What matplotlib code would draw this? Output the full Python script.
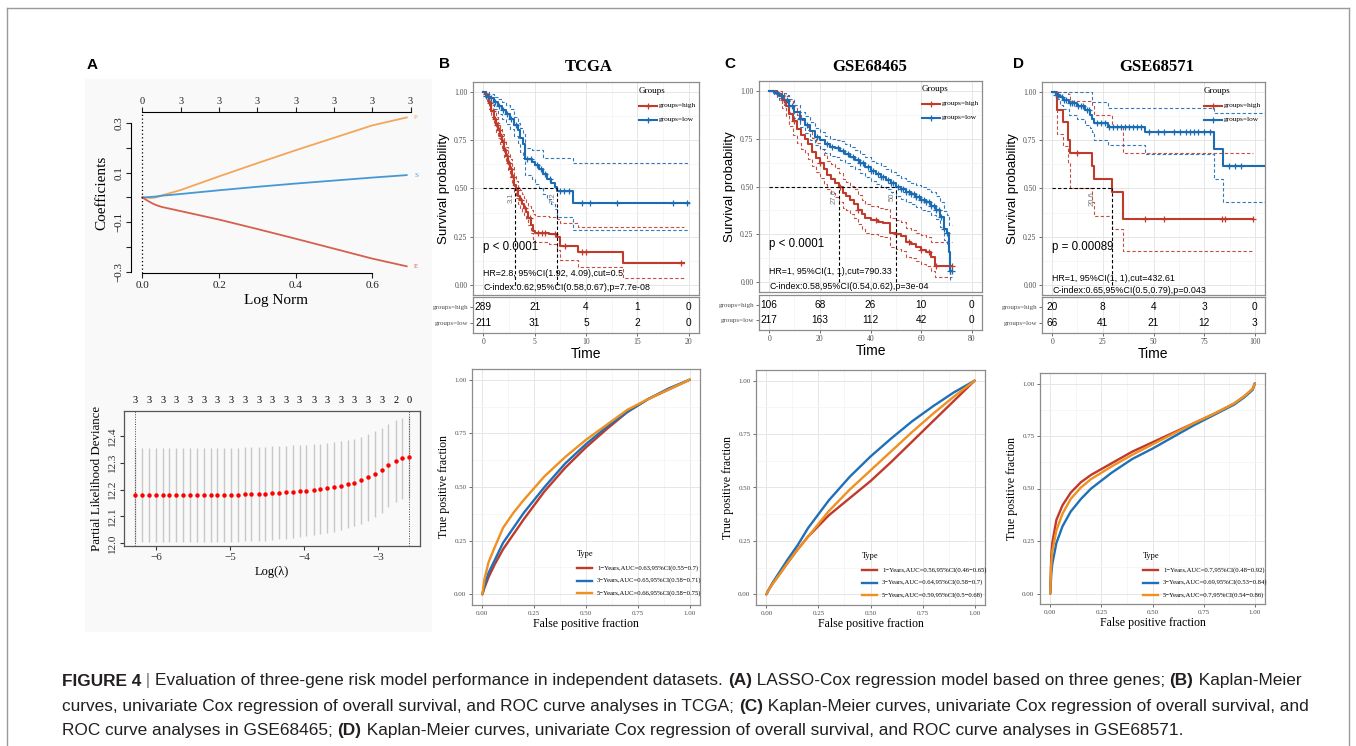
import numpy as np
import matplotlib
matplotlib.use("Agg")
import matplotlib.pyplot as plt
from matplotlib.lines import Line2D
from matplotlib.patches import Rectangle

SERIF = ["Liberation Serif", "DejaVu Serif"]
SANS = ["Liberation Sans", "DejaVu Sans"]

# ---------------- panel A: LASSO path ----------------
lasso_norm = [0, 0.01, 0.02, 0.03, 0.04, 0.05, 0.1, 0.2, 0.3, 0.4, 0.5, 0.6, 0.69]
coef_P = [0, -0.001, -0.002, -0.001, 0.002, 0.008, 0.03, 0.085, 0.138, 0.19, 0.24, 0.29, 0.322]
coef_S = [0, 0.001, 0.002, 0.003, 0.005, 0.007, 0.014, 0.029, 0.043, 0.056, 0.068, 0.08, 0.09]
coef_E = [0, -0.01, -0.019, -0.027, -0.033, -0.038, -0.055, -0.089, -0.127, -0.166, -0.206, -0.246, -0.277]
gene_names = ["P", "S", "E"]
df_ticks = [0, 0.1, 0.2, 0.3, 0.4, 0.5, 0.6, 0.7]
df_labels = ["0", "3", "3", "3", "3", "3", "3", "3"]

# ---------------- panel A: cross-validation ----------------
log_lambda = [-6.28, -6.19, -6.10, -6.00, -5.91, -5.82, -5.73, -5.63, -5.54, -5.45,
              -5.35, -5.26, -5.17, -5.08, -4.98, -4.89, -4.80, -4.71, -4.61, -4.52,
              -4.43, -4.34, -4.24, -4.15, -4.06, -3.97, -3.87, -3.78, -3.69, -3.60,
              -3.50, -3.41, -3.32, -3.23, -3.13, -3.04, -2.95, -2.86, -2.76, -2.67, -2.58]
cv_dev = [12.181] * 16 + [12.182, 12.183, 12.184, 12.185, 12.186, 12.188, 12.19, 12.192,
                          12.194, 12.196, 12.199, 12.202, 12.206, 12.209, 12.214, 12.22,
                          12.226, 12.234, 12.245, 12.257, 12.272, 12.29, 12.307, 12.317, 12.321]
cv_sd = [0.176] * 18 + [0.176, 0.1755, 0.175, 0.1745, 0.174, 0.173, 0.172, 0.171, 0.17,
                        0.169, 0.168, 0.167, 0.166, 0.165, 0.164, 0.163, 0.162, 0.16,
                        0.158, 0.156, 0.152, 0.152, 0.154]
cv_nz = ["3"] * 19 + ["2", "0"]

# ---------------- Kaplan-Meier: TCGA ----------------
tcga_high_t = [0, 0.2, 0.4, 0.6, 0.8, 1.0, 1.2, 1.4, 1.6, 1.8, 2.0, 2.2, 2.4, 2.6, 2.8,
               3.0, 3.2, 3.4, 3.6, 3.8, 4.0, 4.2, 4.4, 4.6, 4.8, 5.0, 6.4, 7.2, 7.5, 9.2, 13.6, 19.5]
tcga_high_s = [1.0, .99, .97, .94, .90, .86, .83, .80, .77, .74, .70, .67, .63, .60, .56,
               .52, .49, .46, .44, .42, .40, .38, .35, .31, .28, .27, .265, .25, .205, .17, .115, .115]
tcga_high_up = [1.0, 1.0, .99, .965, .93, .90, .87, .84, .81, .78, .745, .715, .68, .65, .61,
                .57, .54, .51, .49, .47, .45, .43, .41, .39, .37, .36, .355, .34, .32, .30, .30, .30]
tcga_high_lo = [1.0, .98, .95, .91, .87, .83, .79, .76, .73, .70, .66, .63, .59, .56, .52,
                .48, .45, .42, .40, .38, .36, .34, .31, .27, .24, .225, .215, .18, .13, .096, .04, .04]
tcga_high_cens = [0.3, 0.5, 0.7, 0.9, 1.1, 1.3, 1.5, 1.7, 1.9, 2.1, 2.3, 2.5, 2.7, 2.9, 3.3,
                  3.7, 4.1, 4.5, 5.3, 5.7, 6.0, 7.0, 8.0, 9.6, 10.0, 19.2]
tcga_low_t = [0, 0.3, 0.6, 1.0, 1.4, 1.8, 2.2, 2.6, 3.0, 3.4, 3.6, 3.9, 4.1, 4.7, 5.0,
              5.4, 5.8, 6.2, 6.6, 7.0, 7.2, 8.7, 20.0]
tcga_low_s = [1.0, .98, .965, .945, .925, .905, .885, .86, .83, .80, .76, .73, .65, .635, .62,
              .60, .575, .55, .53, .51, .485, .425, .425]
tcga_low_up = [1.0, 1.0, .99, .975, .96, .945, .93, .91, .87, .84, .81, .78, .71, .70, .70,
               .70, .66, .655, .655, .655, .655, .63, .63]
tcga_low_lo = [1.0, .96, .935, .91, .885, .86, .835, .805, .77, .735, .69, .655, .57, .55, .525,
               .50, .47, .445, .42, .395, .355, .285, .285]
tcga_low_cens = [0.3, 0.5, 0.8, 1.1, 1.5, 1.9, 2.3, 2.7, 3.2, 4.3, 4.6, 5.2, 5.6, 6.0, 6.5,
                 7.5, 7.9, 8.3, 9.6, 10.4, 13.0, 18.5, 19.8]
tcga_times = [0, 5, 10, 15, 20]
tcga_risk_high = [289, 21, 4, 1, 0]
tcga_risk_low = [211, 31, 5, 2, 0]
tcga_medians = [3.1, 7.2]
tcga_median_txt = ["3.1", "7.2"]

# ---------------- Kaplan-Meier: GSE68465 ----------------
g65_high_t = [0, 3, 5, 6.5, 8, 9.5, 11, 12.5, 14, 15.5, 17, 18.5, 20, 21.5, 23, 24.5, 26, 27.5,
              29, 30.5, 32, 33.5, 35, 36.5, 38, 40, 43, 45, 47.5, 50, 52, 54, 56, 58, 60, 62, 64, 65.3, 72]
g65_high_s = [1.0, .98, .95, .92, .88, .84, .80, .77, .75, .72, .68, .65, .62, .59, .56, .54, .52, .495,
              .465, .45, .43, .41, .38, .355, .335, .325, .315, .31, .26, .25, .24, .21, .20, .185, .17,
              .16, .135, .085, .085]
g65_high_up = [1.0, 1.0, .99, .97, .945, .91, .875, .845, .825, .795, .755, .725, .695, .665, .635,
               .615, .595, .57, .54, .525, .505, .485, .455, .43, .41, .40, .39, .385, .335, .325,
               .315, .285, .275, .26, .245, .235, .21, .21, .21]
g65_high_lo = [1.0, .96, .91, .87, .815, .77, .725, .695, .675, .645, .605, .575, .545, .515, .485,
               .465, .445, .42, .39, .375, .355, .335, .305, .28, .26, .25, .24, .235, .185, .175,
               .165, .135, .125, .11, .095, .085, .06, .03, .03]
g65_high_cens = [6, 10, 20, 28, 35, 42, 50, 55, 60, 63, 66, 72]
g65_low_t = [0, 2, 4, 6, 8, 10, 12, 14, 16, 18, 20, 22, 24, 26, 28, 30, 32, 34, 36, 38, 40, 42, 44,
             46, 48, 50, 52, 54, 56, 58, 60, 62, 64, 66, 67.5, 69, 70, 70.8, 71.3, 72]
g65_low_s = [1.0, .99, .97, .95, .92, .89, .85, .82, .79, .76, .74, .72, .705, .70, .685, .67, .655,
             .64, .62, .60, .58, .565, .55, .535, .52, .50, .485, .47, .46, .445, .43, .42, .40, .38,
             .34, .28, .255, .16, .06, .06]
g65_low_up = [1.0, 1.0, .99, .975, .955, .925, .89, .865, .835, .805, .785, .765, .75, .745, .735,
              .72, .705, .69, .67, .655, .635, .62, .605, .59, .575, .56, .545, .53, .52, .51, .495,
              .485, .47, .45, .42, .37, .35, .30, .30, .30]
g65_low_lo = [1.0, .98, .95, .925, .89, .855, .81, .78, .745, .715, .695, .675, .66, .655, .64, .62,
              .605, .59, .57, .55, .53, .515, .50, .485, .47, .45, .435, .42, .41, .395, .38, .37,
              .35, .33, .29, .22, .20, .08, .01, .01]
g65_low_cens = [3, 5, 7, 9, 12, 15, 19, 23, 25, 27, 29, 31, 33, 35, 36, 37, 39, 40, 41, 43, 44, 45,
                47, 48, 49, 51, 52, 53, 54, 55, 56, 57, 58, 59, 60, 61, 62, 63, 64, 65, 66, 67, 68,
                69, 70, 71.5, 72]
g65_times = [0, 20, 40, 60, 80]
g65_risk_high = [106, 68, 26, 10, 0]
g65_risk_low = [217, 163, 112, 42, 0]
g65_medians = [27.6, 50.2]
g65_median_txt = ["27.6", "50."]

# ---------------- Kaplan-Meier: GSE68571 ----------------
g71_high_t = [0, 2.5, 5.4, 7.7, 8.7, 19.6, 20.7, 29.7, 34.8, 98.9]
g71_high_s = [1.0, .905, .845, .75, .685, .615, .55, .48, .34, .34]
g71_high_up = [1.0, 1.0, 1.0, .99, .95, .93, .88, .82, .685, .685]
g71_high_lo = [1.0, .78, .72, .63, .505, .43, .36, .29, .175, .175]
g71_high_cens = [12.3, 46, 55, 83.7, 85.5, 98.9]
g71_low_t = [0, 2.0, 4.1, 5.4, 8.2, 12.3, 16.3, 18.8, 19.6, 20.8, 27.8, 45.8, 79.6, 84.2, 105]
g71_low_s = [1.0, .985, .97, .955, .94, .925, .905, .88, .86, .84, .82, .79, .705, .615, .615]
g71_low_up = [1.0, 1.0, 1.0, 1.0, 1.0, 1.0, 1.0, 1.0, .945, .945, .915, .915, .89, .89, .89]
g71_low_lo = [1.0, .96, .93, .91, .88, .86, .83, .81, .79, .75, .725, .68, .55, .43, .43]
g71_low_cens = [2, 3, 5, 6, 7, 9, 10, 11, 13, 14, 15, 17, 18, 22, 24, 26, 28, 30, 32, 34, 36, 38,
                40, 42, 44, 48, 52, 55, 60, 63, 66, 68, 70, 72, 75, 78, 87, 90, 93]
g71_times = [0, 25, 50, 75, 100]
g71_risk_high = [20, 8, 4, 3, 0]
g71_risk_low = [66, 41, 21, 12, 3]
g71_medians = [29.7]
g71_median_txt = ["20.6"]

# ---------------- ROC curves ----------------
roc_fpr = [0, .01, .03, .06, .1, .15, .2, .3, .4, .5, .6, .7, .8, .9, 1.0]
tcga_roc = [[0, .03, .08, .14, .21, .28, .35, .48, .59, .685, .77, .85, .91, .955, 1.0],
            [0, .04, .10, .16, .24, .31, .38, .50, .61, .70, .78, .85, .91, .96, 1.0],
            [0, .07, .15, .22, .31, .38, .44, .55, .64, .72, .79, .86, .91, .955, 1.0]]
g65_roc = [[0, .02, .05, .09, .145, .21, .27, .37, .45, .53, .62, .715, .81, .905, 1.0],
           [0, .02, .055, .10, .16, .23, .31, .44, .55, .645, .73, .81, .88, .945, 1.0],
           [0, .02, .05, .09, .145, .21, .27, .39, .49, .58, .67, .76, .845, .925, 1.0]]
roc_fpr_d = [0, .005, .01, .03, .06, .1, .15, .2, .3, .4, .5, .6, .7, .8, .9, .95, .99, 1.0]
g71_roc = [[0, .18, .24, .35, .42, .48, .53, .565, .62, .675, .72, .765, .81, .855, .905, .94, .975, 1.0],
           [0, .09, .14, .24, .32, .39, .45, .50, .575, .64, .69, .745, .80, .85, .90, .935, .97, 1.0],
           [0, .14, .20, .30, .38, .45, .505, .545, .605, .66, .71, .76, .81, .855, .905, .94, .975, 1.0]]
tcga_auc = ["1\u2212Years,AUC=0.63,95%CI(0.55\u22120.7)", "3\u2212Years,AUC=0.65,95%CI(0.58\u22120.71)",
            "5\u2212Years,AUC=0.66,95%CI(0.58\u22120.75)"]
g65_auc = ["1\u2212Years,AUC=0.56,95%CI(0.46\u22120.65)", "3\u2212Years,AUC=0.64,95%CI(0.58\u22120.7)",
           "5\u2212Years,AUC=0.59,95%CI(0.5\u22120.68)"]
g71_auc = ["1\u2212Years,AUC=0.7,95%CI(0.48\u22120.92)", "3\u2212Years,AUC=0.69,95%CI(0.53\u22120.84)",
           "5\u2212Years,AUC=0.7,95%CI(0.54\u22120.86)"]

KM_RED, KM_BLUE = "#C13B2D", "#1C6CB4"
ROC_COLS = ["#C0392B", "#1F70B8", "#F0901E"]
LASSO_COLS = ["#F3A65A", "#4499D5", "#D5604E"]
GRID_MAJ, GRID_MIN, BORDER = "#e6e6e6", "#f3f3f3", "#8c8c8c"

W, H = 1356, 746
fig = plt.figure(figsize=(W / 100, H / 100), dpi=100)


def px_axes(l, t, r, b):
    return fig.add_axes([l / W, 1 - b / H, (r - l) / W, (b - t) / H])


def ftext(x, y, s, **kw):
    return fig.text(x / W, 1 - y / H, s, **kw)


def fline(x0, x1, y, **kw):
    fig.add_artist(Line2D([x0 / W, x1 / W], [1 - y / H, 1 - y / H], transform=fig.transFigure, **kw))


# outer frame and panel A background
fig.add_artist(Line2D([7 / W, 1349 / W], [1 - 8 / H, 1 - 8 / H], transform=fig.transFigure, color="#9a9a9a", lw=1))
fig.add_artist(Line2D([7 / W, 7 / W], [0, 1 - 8 / H], transform=fig.transFigure, color="#9a9a9a", lw=1))
fig.add_artist(Line2D([1349 / W, 1349 / W], [0, 1 - 8 / H], transform=fig.transFigure, color="#9a9a9a", lw=1))
fig.add_artist(Rectangle((85 / W, 1 - 632 / H), 347 / W, 553 / H, transform=fig.transFigure,
                         facecolor="#f9f9f9", edgecolor="none", zorder=-5))

# ---------- A: coefficient path ----------
ax = px_axes(131, 112, 422, 273)
ax.patch.set_alpha(0)
for coef, col in zip([coef_P, coef_S, coef_E], LASSO_COLS):
    ax.plot(lasso_norm, coef, color=col, lw=1.3)
for name, coef, col in zip(gene_names, [coef_P, coef_S, coef_E], LASSO_COLS):
    ax.text(0.71, coef[-1], name, color=col, fontsize=5, family=SERIF, va="center")
ax.axvline(0, color="black", ls=(0, (1, 2)), lw=0.9)
ax.set_xlim(-0.03, 0.73)
ax.set_ylim(-0.304, 0.344)
ax.spines["right"].set_visible(False)
ax.spines["top"].set_visible(False)
ax.spines["left"].set_bounds(-0.3, 0.3)
ax.spines["bottom"].set_bounds(0, 0.6)
ax.set_xticks([0, 0.2, 0.4, 0.6])
ax.set_xticklabels(["0.0", "0.2", "0.4", "0.6"], family=SERIF, fontsize=8)
ax.set_yticks([-0.3, -0.2, -0.1, 0, 0.1, 0.2, 0.3])
ax.set_yticklabels(["\u22120.3", "", "\u22120.1", "", "0.1", "", "0.3"], family=SERIF, fontsize=8,
                   rotation=90, va="center")
ax.tick_params(direction="out", length=3.5, width=0.8, colors="#222222", pad=2)
ax.set_xlabel("Log Norm", family=SERIF, fontsize=11, labelpad=3)
ax.set_ylabel("Coefficients", family=SERIF, fontsize=11, labelpad=4)
top = ax.twiny()
top.set_xlim(ax.get_xlim())
top.set_xticks(df_ticks)
top.set_xticklabels(df_labels, family=SERIF, fontsize=7.5)
for sp in ["left", "right", "bottom"]:
    top.spines[sp].set_visible(False)
top.spines["top"].set_bounds(0, 0.7)
top.tick_params(direction="out", length=3.5, width=0.8, colors="#222222", pad=1)

# ---------- A: cross-validation ----------
ax = px_axes(124, 411, 420, 546)
ax.patch.set_alpha(0)
ax.errorbar(log_lambda, cv_dev, yerr=cv_sd, fmt="o", color="#ff0000", ms=3.2, mew=0,
            ecolor="#c8c8c8", elinewidth=1.0, capsize=2.2, capthick=0.8)
ax.axvline(log_lambda[0], color="#444444", ls=(0, (1, 1.5)), lw=0.7)
ax.axvline(log_lambda[-1], color="#444444", ls=(0, (1, 1.5)), lw=0.7)
ax.set_xlim(-6.432, -2.432)
ax.set_ylim(11.989, 12.4935)
ax.set_xticks([-6, -5, -4, -3])
ax.set_xticklabels(["\u22126", "\u22125", "\u22124", "\u22123"], family=SERIF, fontsize=8)
ax.set_yticks([12.0, 12.1, 12.2, 12.3, 12.4])
ax.set_yticklabels(["12.0", "12.1", "12.2", "12.3", "12.4"], family=SERIF, fontsize=8,
                   rotation=90, va="center")
ax.tick_params(direction="out", length=3, width=0.8, colors="#333333", pad=2)
for sp in ax.spines.values():
    sp.set_color("#555555")
    sp.set_linewidth(0.9)
ax.set_xlabel("Log(\u03bb)", family=SERIF, fontsize=9, labelpad=3)
ax.set_ylabel("Partial Likelihood Deviance", family=SERIF, fontsize=9.3, labelpad=4)
top = ax.twiny()
top.set_xlim(ax.get_xlim())
top.set_xticks(log_lambda[::2])
top.set_xticklabels(cv_nz, family=SERIF, fontsize=7.5)
top.tick_params(length=0, pad=4)
for sp in top.spines.values():
    sp.set_visible(False)

ftext(92, 65, "A", fontsize=11, fontweight="bold", family=SANS, ha="center", va="center")


# ---------- Kaplan-Meier panels ----------
def km_panel(d):
    l, t, r, b = d["rect"]
    ax = px_axes(l, t, r, b)
    ax.set_xlim(*d["xlim"])
    ax.set_ylim(-0.05, 1.05)
    for grp, col in (("high", KM_RED), ("low", KM_BLUE)):
        tt, ss, up, lo, cens = d[grp]
        ax.step(tt, up, where="post", color=col, lw=0.8, ls=(0, (3, 2)), alpha=0.9, zorder=3)
        ax.step(tt, lo, where="post", color=col, lw=0.8, ls=(0, (3, 2)), alpha=0.9, zorder=3)
        ax.step(tt, ss, where="post", color=col, lw=1.5, zorder=4)
        c = np.asarray(cens, dtype=float)
        idx = np.searchsorted(np.asarray(tt), c, side="right") - 1
        ax.plot(c, np.asarray(ss)[idx], ls="none", marker="+", ms=4, mew=0.9, color=col, zorder=5)
    med = d["medians"]
    ax.plot([0, max(med)], [0.5, 0.5], color="black", ls=(0, (3, 2)), lw=0.8, zorder=6)
    for m, mx, txt in zip(med, d["med_x"], d["med_txt"]):
        ax.plot([m, m], [0, 0.5], color="black", ls=(0, (3, 2)), lw=0.8, zorder=6)
        ax.text(mx, 0.45, txt, rotation=90, fontsize=5.5, color="#777777", family=SANS,
                ha="center", va="center", zorder=6)
    ax.set_xticks(d["times"])
    ax.set_xticks([(a + c) / 2 for a, c in zip(d["times"][:-1], d["times"][1:])], minor=True)
    ax.set_yticks([0, 0.25, 0.5, 0.75, 1.0])
    ax.set_yticks([0.125, 0.375, 0.625, 0.875], minor=True)
    ax.set_yticklabels(["0.00", "0.25", "0.50", "0.75", "1.00"], family=SERIF, fontsize=5.5, color="#4d4d4d")
    ax.set_xticklabels([])
    ax.tick_params(axis="x", which="both", length=0)
    ax.tick_params(axis="y", which="major", length=2, width=0.6, color="#555555", pad=2)
    ax.tick_params(axis="y", which="minor", length=0)
    ax.grid(which="major", color=GRID_MAJ, lw=0.7)
    ax.grid(which="minor", color=GRID_MIN, lw=0.5)
    ax.set_axisbelow(True)
    for sp in ax.spines.values():
        sp.set_color(BORDER)
        sp.set_linewidth(0.9)
    ax.set_ylabel("Survival probability", family=SANS, fontsize=9.5, labelpad=3)
    ty = d["text_y"]
    ax.text(0, ty[0], d["ptxt"], fontsize=8.3, family=SANS, va="center", zorder=7)
    ax.text(0, ty[1], d["hr"], fontsize=6.4, family=SANS, va="center", zorder=7)
    ax.text(0, ty[2], d["cidx"], fontsize=6.4, family=SANS, va="center", zorder=7)

    # risk table
    tl, tt_, tr, tb = d["table"]
    tab = px_axes(tl, tt_, tr, tb)
    tab.set_xlim(*d["xlim"])
    tab.set_ylim(0, 2)
    tab.set_xticks(d["times"])
    tab.set_xticks([(a + c) / 2 for a, c in zip(d["times"][:-1], d["times"][1:])], minor=True)
    tab.set_xticklabels([str(v) for v in d["times"]], family=SERIF, fontsize=5.5, color="#4d4d4d")
    tab.set_yticks([1.44, 0.56])
    tab.set_yticklabels(["groups=high", "groups=low"], family=SERIF, fontsize=5, color="#4d4d4d")
    tab.tick_params(which="major", length=2, width=0.6, color="#555555", pad=1.5)
    tab.tick_params(which="minor", length=0)
    tab.grid(axis="x", which="major", color=GRID_MAJ, lw=0.7)
    tab.grid(axis="x", which="minor", color=GRID_MIN, lw=0.5)
    tab.set_axisbelow(True)
    for sp in tab.spines.values():
        sp.set_color(BORDER)
        sp.set_linewidth(0.9)
    for xv, nh, nl in zip(d["times"], d["risk_high"], d["risk_low"]):
        tab.text(xv, 1.44, str(nh), fontsize=7.3, family=SANS, ha="center", va="center")
        tab.text(xv, 0.56, str(nl), fontsize=7.3, family=SANS, ha="center", va="center")
    tab.set_xlabel("Time", family=SANS, fontsize=10, labelpad=1)

    # legend
    lx, ly = d["legend"]
    ftext(lx, ly, "Groups", family=SERIF, fontsize=6.5, va="center")
    for k, (lab, col) in enumerate((("groups=high", KM_RED), ("groups=low", KM_BLUE))):
        yy = ly + 15 + 14 * k
        fline(lx, lx + 18, yy, color=col, lw=1.5)
        fig.add_artist(Line2D([(lx + 9) / W], [1 - yy / H], transform=fig.transFigure, marker="+",
                              ms=4, mew=0.9, color=col, ls="none"))
        ftext(lx + 20, yy, lab, family=SERIF, fontsize=5.3, va="center")

    cx, cy = d["title_xy"]
    ftext(cx, cy, d["title"], family=SERIF, fontsize=12, fontweight="bold", ha="center", va="center")
    ftext(d["letter_x"], 64, d["letter"], family=SANS, fontsize=11, fontweight="bold", ha="center", va="center")


km_panel(dict(rect=(473, 82, 699, 295), table=(473, 297, 699, 333), xlim=(-1, 21),
              high=(tcga_high_t, tcga_high_s, tcga_high_up, tcga_high_lo, tcga_high_cens),
              low=(tcga_low_t, tcga_low_s, tcga_low_up, tcga_low_lo, tcga_low_cens),
              medians=tcga_medians, med_x=[2.7, 6.8], med_txt=tcga_median_txt,
              times=tcga_times, risk_high=tcga_risk_high, risk_low=tcga_risk_low,
              ptxt="p < 0.0001", hr="HR=2.8, 95%CI(1.92, 4.09),cut=0.5",
              cidx="C-index:0.62,95%CI(0.58,0.67),p=7.7e-08", text_y=(0.2, 0.062, -0.01),
              legend=(639, 91), title="TCGA", title_xy=(589, 67), letter="B", letter_x=445))
km_panel(dict(rect=(759, 81, 982, 292), table=(759, 295, 982, 330), xlim=(-4, 84),
              high=(g65_high_t, g65_high_s, g65_high_up, g65_high_lo, g65_high_cens),
              low=(g65_low_t, g65_low_s, g65_low_up, g65_low_lo, g65_low_cens),
              medians=g65_medians, med_x=[25.7, 48.7], med_txt=g65_median_txt,
              times=g65_times, risk_high=g65_risk_high, risk_low=g65_risk_low,
              ptxt="p < 0.0001", hr="HR=1, 95%CI(1, 1),cut=790.33",
              cidx="C-index:0.58,95%CI(0.54,0.62),p=3e-04", text_y=(0.2, 0.055, -0.022),
              legend=(922, 89), title="GSE68465", title_xy=(870, 67), letter="C", letter_x=730))
km_panel(dict(rect=(1042, 82, 1265, 295), table=(1042, 297, 1265, 333), xlim=(-5, 105),
              high=(g71_high_t, g71_high_s, g71_high_up, g71_high_lo, g71_high_cens),
              low=(g71_low_t, g71_low_s, g71_low_up, g71_low_lo, g71_low_cens),
              medians=g71_medians, med_x=[19.8], med_txt=g71_median_txt,
              times=g71_times, risk_high=g71_risk_high, risk_low=g71_risk_low,
              ptxt="p = 0.00089", hr="HR=1, 95%CI(1, 1),cut=432.61",
              cidx="C-index:0.65,95%CI(0.5,0.79),p=0.043", text_y=(0.2, 0.035, -0.025),
              legend=(1204, 91), title="GSE68571", title_xy=(1157, 67), letter="D", letter_x=1018))


# ---------- ROC panels ----------
def roc_panel(rect, fpr, curves, labels, leg):
    l, t, r, b = rect
    ax = px_axes(l, t, r, b)
    ax.set_xlim(-0.05, 1.05)
    ax.set_ylim(-0.05, 1.05)
    ticks = [0, 0.25, 0.5, 0.75, 1.0]
    tl = ["0.00", "0.25", "0.50", "0.75", "1.00"]
    ax.set_xticks(ticks)
    ax.set_yticks(ticks)
    ax.set_xticks([0.125, 0.375, 0.625, 0.875], minor=True)
    ax.set_yticks([0.125, 0.375, 0.625, 0.875], minor=True)
    ax.set_xticklabels(tl, family=SERIF, fontsize=5, color="#4d4d4d")
    ax.set_yticklabels(tl, family=SERIF, fontsize=5, color="#4d4d4d")
    ax.tick_params(which="major", length=2, width=0.6, color="#555555", pad=2)
    ax.tick_params(which="minor", length=0)
    ax.grid(which="major", color=GRID_MAJ, lw=0.7)
    ax.grid(which="minor", color=GRID_MIN, lw=0.5)
    ax.set_axisbelow(True)
    for sp in ax.spines.values():
        sp.set_color(BORDER)
        sp.set_linewidth(0.9)
    for tpr, col in zip(curves, ROC_COLS):
        ax.plot(fpr, tpr, color=col, lw=1.7, solid_capstyle="round")
    ax.set_xlabel("False positive fraction", family=SERIF, fontsize=8.6, labelpad=2)
    ax.set_ylabel("True positive fraction", family=SERIF, fontsize=8.6, labelpad=3)
    lx, ly = leg
    ftext(lx, ly, "Type", family=SERIF, fontsize=6, va="center")
    for k, (lab, col) in enumerate(zip(labels, ROC_COLS)):
        yy = ly + 14 + 12.5 * k
        fline(lx, lx + 15, yy, color=col, lw=1.7)
        ftext(lx + 20, yy, lab, family=SERIF, fontsize=4.8, va="center")


roc_panel((472, 369, 700, 605), roc_fpr, tcga_roc, tcga_auc, (577, 554))
roc_panel((756, 370, 985, 605), roc_fpr, g65_roc, g65_auc, (862, 556))
roc_panel((1040, 373, 1265, 604), roc_fpr_d, g71_roc, g71_auc, (1143, 556))

# ---------- caption ----------
CAP = "#231F20"
caption = [
    [("FIGURE 4", True), (" | ", False), ("Evaluation of three-gene risk model performance in independent datasets. ", False),
     ("(A)", True), (" LASSO-Cox regression model based on three genes; ", False), ("(B)", True),
     (" Kaplan-Meier", False)],
    [("curves, univariate Cox regression of overall survival, and ROC curve analyses in TCGA; ", False),
     ("(C)", True), (" Kaplan-Meier curves, univariate Cox regression of overall survival, and", False)],
    [("ROC curve analyses in GSE68465; ", False), ("(D)", True),
     (" Kaplan-Meier curves, univariate Cox regression of overall survival, and ROC curve analyses in GSE68571.", False)],
]
renderer = fig.canvas.get_renderer()
CAP_SIZE = 12.4


def text_width(s, bold):
    probe = fig.text(0, 0, s + "|", fontsize=CAP_SIZE, family=SANS, fontweight="bold" if bold else "normal")
    bar = fig.text(0, 0, "|", fontsize=CAP_SIZE, family=SANS, fontweight="bold" if bold else "normal")
    w = probe.get_window_extent(renderer).width - bar.get_window_extent(renderer).width
    probe.remove()
    bar.remove()
    return w


for yline, pieces in zip([681, 706, 730], caption):
    x = 62
    for s, bold in pieces:
        col = "#777777" if s == " | " else CAP
        ftext(x, yline, s, fontsize=CAP_SIZE, family=SANS, fontweight="bold" if bold else "normal",
              color=col, va="center")
        x += text_width(s, bold)

fig.savefig("out.png", dpi=100)
